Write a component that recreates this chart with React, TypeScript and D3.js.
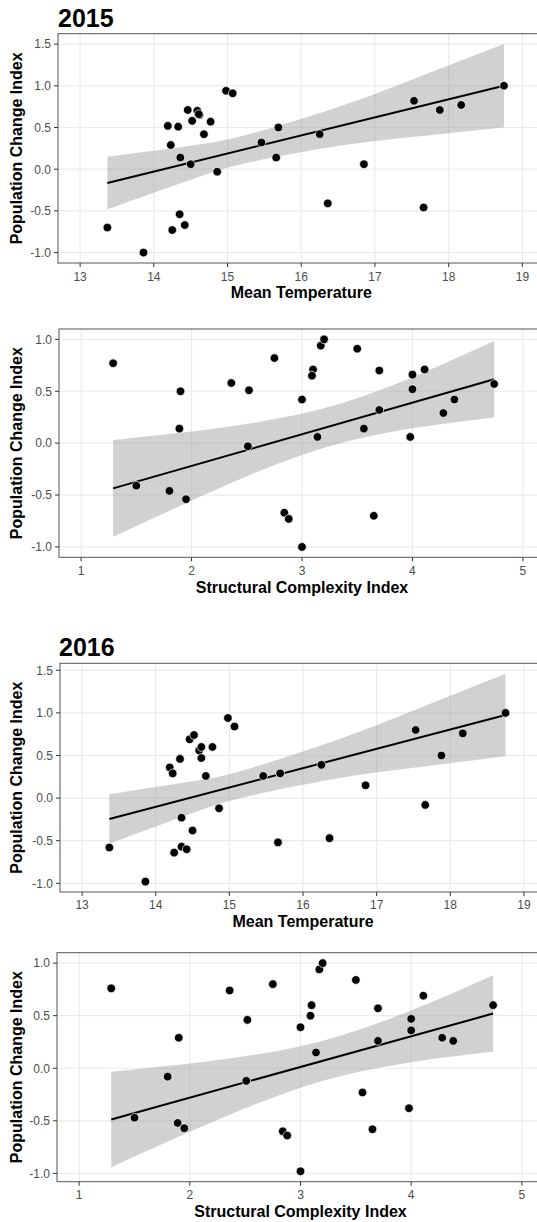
import React from "react";
import * as d3 from "d3";

// ---------- data: points ----------
const temp2015X = [13.37, 13.86, 14.19, 14.23, 14.33, 14.36, 14.35, 14.25, 14.42, 14.46, 14.52, 14.5, 14.59, 14.62, 14.61, 14.68, 14.77, 14.86, 14.98, 15.07, 15.46, 15.69, 15.66, 16.25, 16.36, 16.85, 17.53, 17.66, 17.88, 18.17, 18.75];
const temp2015Y = [-0.7, -1.0, 0.52, 0.29, 0.51, 0.14, -0.54, -0.73, -0.67, 0.71, 0.58, 0.06, 0.7, 0.65, 0.66, 0.42, 0.57, -0.03, 0.94, 0.91, 0.32, 0.5, 0.14, 0.42, -0.41, 0.06, 0.82, -0.46, 0.71, 0.77, 1.0];

const struct2015X = [1.29, 1.5, 1.8, 1.9, 1.89, 1.95, 2.36, 2.52, 2.51, 2.75, 2.84, 2.88, 3.0, 3.0, 3.1, 3.09, 3.14, 3.17, 3.2, 3.5, 3.56, 3.65, 3.7, 3.7, 3.98, 4.0, 4.0, 4.11, 4.28, 4.38, 4.74];
const struct2015Y = [0.77, -0.41, -0.46, 0.5, 0.14, -0.54, 0.58, 0.51, -0.03, 0.82, -0.67, -0.73, 0.42, -1.0, 0.71, 0.65, 0.06, 0.94, 1.0, 0.91, 0.14, -0.7, 0.7, 0.32, 0.06, 0.66, 0.52, 0.71, 0.29, 0.42, 0.57];

const temp2016X = [13.37, 13.86, 14.19, 14.23, 14.33, 14.35, 14.35, 14.25, 14.42, 14.46, 14.52, 14.5, 14.59, 14.62, 14.62, 14.68, 14.77, 14.86, 14.98, 15.07, 15.46, 15.69, 15.66, 16.25, 16.36, 16.85, 17.53, 17.66, 17.88, 18.17, 18.75];
const temp2016Y = [-0.58, -0.98, 0.36, 0.29, 0.46, -0.23, -0.57, -0.64, -0.6, 0.69, 0.74, -0.38, 0.56, 0.6, 0.47, 0.26, 0.6, -0.12, 0.94, 0.84, 0.26, 0.29, -0.52, 0.39, -0.47, 0.15, 0.8, -0.08, 0.5, 0.76, 1.0];

const struct2016X = [1.29, 1.5, 1.8, 1.9, 1.89, 1.95, 2.36, 2.52, 2.51, 2.75, 2.84, 2.88, 3.0, 3.0, 3.1, 3.09, 3.14, 3.17, 3.2, 3.5, 3.56, 3.65, 3.7, 3.7, 3.98, 4.0, 4.0, 4.11, 4.28, 4.38, 4.74];
const struct2016Y = [0.76, -0.47, -0.08, 0.29, -0.52, -0.57, 0.74, 0.46, -0.12, 0.8, -0.6, -0.64, 0.39, -0.98, 0.6, 0.5, 0.15, 0.94, 1.0, 0.84, -0.23, -0.58, 0.57, 0.26, -0.38, 0.47, 0.36, 0.69, 0.29, 0.26, 0.6];

// ---------- data: fitted lines and confidence bands ----------
const fitTemp2015X = [13.37, 18.75];
const fitTemp2015Y = [-0.165, 1.0];
const bandTemp2015X = [13.37, 14.5, 15.3, 16.5, 17.5, 18.75];
const bandTemp2015Lo = [-0.48, -0.126, 0.082, 0.277, 0.385, 0.5];
const bandTemp2015Hi = [0.15, 0.282, 0.422, 0.747, 1.073, 1.5];

const fitStruct2015X = [1.29, 4.74];
const fitStruct2015Y = [-0.436, 0.615];
const bandStruct2015X = [1.29, 2.0, 2.6, 3.27, 4.0, 4.74];
const bandStruct2015Lo = [-0.903, -0.553, -0.276, -0.023, 0.143, 0.246];
const bandStruct2015Hi = [0.031, 0.113, 0.202, 0.357, 0.635, 0.984];

const fitTemp2016X = [13.37, 18.75];
const fitTemp2016Y = [-0.245, 0.975];
const bandTemp2016X = [13.37, 14.5, 15.23, 16.5, 17.5, 18.75];
const bandTemp2016Lo = [-0.535, -0.175, 0.017, 0.235, 0.356, 0.49];
const bandTemp2016Hi = [0.045, 0.197, 0.337, 0.695, 1.028, 1.46];

const fitStruct2016X = [1.29, 4.74];
const fitStruct2016Y = [-0.487, 0.52];
const bandStruct2016X = [1.29, 2.0, 2.6, 3.26, 4.0, 4.74];
const bandStruct2016Lo = [-0.941, -0.605, -0.34, -0.102, 0.058, 0.156];
const bandStruct2016Hi = [-0.033, 0.045, 0.13, 0.278, 0.55, 0.884];

// ---------- labels / ticks ----------
const yearTitles = ["2015", "2016"];
const tempTicks = [13, 14, 15, 16, 17, 18, 19];
const tempLimits = [13, 19];
const structTicks = [1, 2, 3, 4, 5];
const structLimits = [1, 5];
const yTickValues = [-1.0, -0.5, 0.0, 0.5, 1.0, 1.5];
const yTitle = "Population Change Index";
const tempTitle = "Mean Temperature";
const structTitle = "Structural Complexity Index";

// ---------- layout ----------
const W = 537;
const H = 1222;
const FONT = "'Liberation Sans', Arial, Helvetica, sans-serif";

type PanelDef = {
  xs: number[];
  ys: number[];
  fitX: number[];
  fitY: number[];
  bandX: number[];
  bandLo: number[];
  bandHi: number[];
  xLimits: number[];
  xTicks: number[];
  xTitle: string;
  left: number;
  right: number;
  top: number;
  bottom: number;
  tickBase: number;
  titleBase: number;
};

const panels: PanelDef[] = [
  { xs: temp2015X, ys: temp2015Y, fitX: fitTemp2015X, fitY: fitTemp2015Y, bandX: bandTemp2015X, bandLo: bandTemp2015Lo, bandHi: bandTemp2015Hi, xLimits: tempLimits, xTicks: tempTicks, xTitle: tempTitle, left: 58, right: 544.5, top: 33.7, bottom: 263, tickBase: 280.5, titleBase: 297.5 },
  { xs: struct2015X, ys: struct2015Y, fitX: fitStruct2015X, fitY: fitStruct2015Y, bandX: bandStruct2015X, bandLo: bandStruct2015Lo, bandHi: bandStruct2015Hi, xLimits: structLimits, xTicks: structTicks, xTitle: structTitle, left: 59, right: 545, top: 329, bottom: 557.3, tickBase: 574.5, titleBase: 593 },
  { xs: temp2016X, ys: temp2016Y, fitX: fitTemp2016X, fitY: fitTemp2016Y, bandX: bandTemp2016X, bandLo: bandTemp2016Lo, bandHi: bandTemp2016Hi, xLimits: tempLimits, xTicks: tempTicks, xTitle: tempTitle, left: 60, right: 546, top: 663.3, bottom: 892, tickBase: 909, titleBase: 926.5 },
  { xs: struct2016X, ys: struct2016Y, fitX: fitStruct2016X, fitY: fitStruct2016Y, bandX: bandStruct2016X, bandLo: bandStruct2016Lo, bandHi: bandStruct2016Hi, xLimits: structLimits, xTicks: structTicks, xTitle: structTitle, left: 57, right: 544, top: 952.7, bottom: 1181.7, tickBase: 1198.5, titleBase: 1216.5 },
];

const yearTitlePos = [
  { x: 58, y: 27 },
  { x: 59, y: 656 },
];

function Panel({ p }: { p: PanelDef }) {
  const xr = p.xLimits[1] - p.xLimits[0];
  const x = d3.scaleLinear().domain([p.xLimits[0] - 0.05 * xr, p.xLimits[1] + 0.05 * xr]).range([p.left, p.right]);
  const allY = [...p.ys, ...p.bandLo, ...p.bandHi];
  const [ymin, ymax] = d3.extent(allY) as [number, number];
  const yr = ymax - ymin;
  const y = d3.scaleLinear().domain([ymin - 0.05 * yr, ymax + 0.05 * yr]).range([p.bottom, p.top]);
  const yTicks = yTickValues.filter((v) => v >= y.domain()[0] && v <= y.domain()[1]);
  const band = p.bandX.map((bx, i) => ({ x: bx, lo: p.bandLo[i], hi: p.bandHi[i] }));
  const fit = p.fitX.map((fx, i) => ({ x: fx, y: p.fitY[i] }));
  const area = d3
    .area<{ x: number; lo: number; hi: number }>()
    .curve(d3.curveNatural)
    .x((d) => x(d.x))
    .y0((d) => y(d.lo))
    .y1((d) => y(d.hi));
  const line = d3
    .line<{ x: number; y: number }>()
    .x((d) => x(d.x))
    .y((d) => y(d.y));
  const midY = (p.top + p.bottom) / 2;
  const midX = (p.left + p.right) / 2;
  return (
    <g>
      <rect x={p.left} y={p.top} width={p.right - p.left} height={p.bottom - p.top} fill="#ffffff" />
      {yTicks.map((v) => (
        <line key={"gy" + v} x1={p.left} x2={p.right} y1={y(v)} y2={y(v)} stroke="#ebebeb" strokeWidth={1.2} />
      ))}
      {p.xTicks.map((v) => (
        <line key={"gx" + v} x1={x(v)} x2={x(v)} y1={p.top} y2={p.bottom} stroke="#ebebeb" strokeWidth={1.2} />
      ))}
      <path d={area(band)!} fill="#999999" fillOpacity={0.45} />
      <path d={line(fit)!} fill="none" stroke="#000000" strokeWidth={2} />
      {p.xs.map((xv, i) => (
        <circle key={i} cx={x(xv)} cy={y(p.ys[i])} r={4.3} fill="#000000" stroke="#ffffff" strokeWidth={0.7} />
      ))}
      <rect x={p.left} y={p.top} width={p.right - p.left} height={p.bottom - p.top} fill="none" stroke="#555555" strokeWidth={1} />
      {yTicks.map((v) => (
        <g key={"ty" + v}>
          <line x1={p.left - 4} x2={p.left} y1={y(v)} y2={y(v)} stroke="#333333" strokeWidth={1} />
          <text x={p.left - 7} y={y(v)} dy="0.36em" textAnchor="end" fontSize={12} fill="#4d4d4d" fontFamily={FONT}>
            {v.toFixed(1)}
          </text>
        </g>
      ))}
      {p.xTicks.map((v) => (
        <g key={"tx" + v}>
          <line x1={x(v)} x2={x(v)} y1={p.bottom} y2={p.bottom + 4} stroke="#333333" strokeWidth={1} />
          <text x={x(v)} y={p.tickBase} textAnchor="middle" fontSize={12} fill="#4d4d4d" fontFamily={FONT}>
            {String(v)}
          </text>
        </g>
      ))}
      <text x={midX} y={p.titleBase} textAnchor="middle" fontSize={16} fontWeight="bold" fill="#000000" fontFamily={FONT}>
        {p.xTitle}
      </text>
      <text transform={`translate(22,${midY}) rotate(-90)`} textAnchor="middle" fontSize={16} fontWeight="bold" fill="#000000" fontFamily={FONT}>
        {yTitle}
      </text>
    </g>
  );
}

export default function App() {
  return (
    <svg width={W} height={H} viewBox={`0 0 ${W} ${H}`} style={{ position: "absolute", left: 0, top: 0, background: "#ffffff" }}>
      <rect x={0} y={0} width={W} height={H} fill="#ffffff" />
      {panels.map((p, i) => (
        <Panel key={i} p={p} />
      ))}
      {yearTitles.map((t, i) => (
        <text key={t} x={yearTitlePos[i].x} y={yearTitlePos[i].y} fontSize={25} fontWeight="bold" fill="#000000" fontFamily={FONT}>
          {t}
        </text>
      ))}
    </svg>
  );
}
